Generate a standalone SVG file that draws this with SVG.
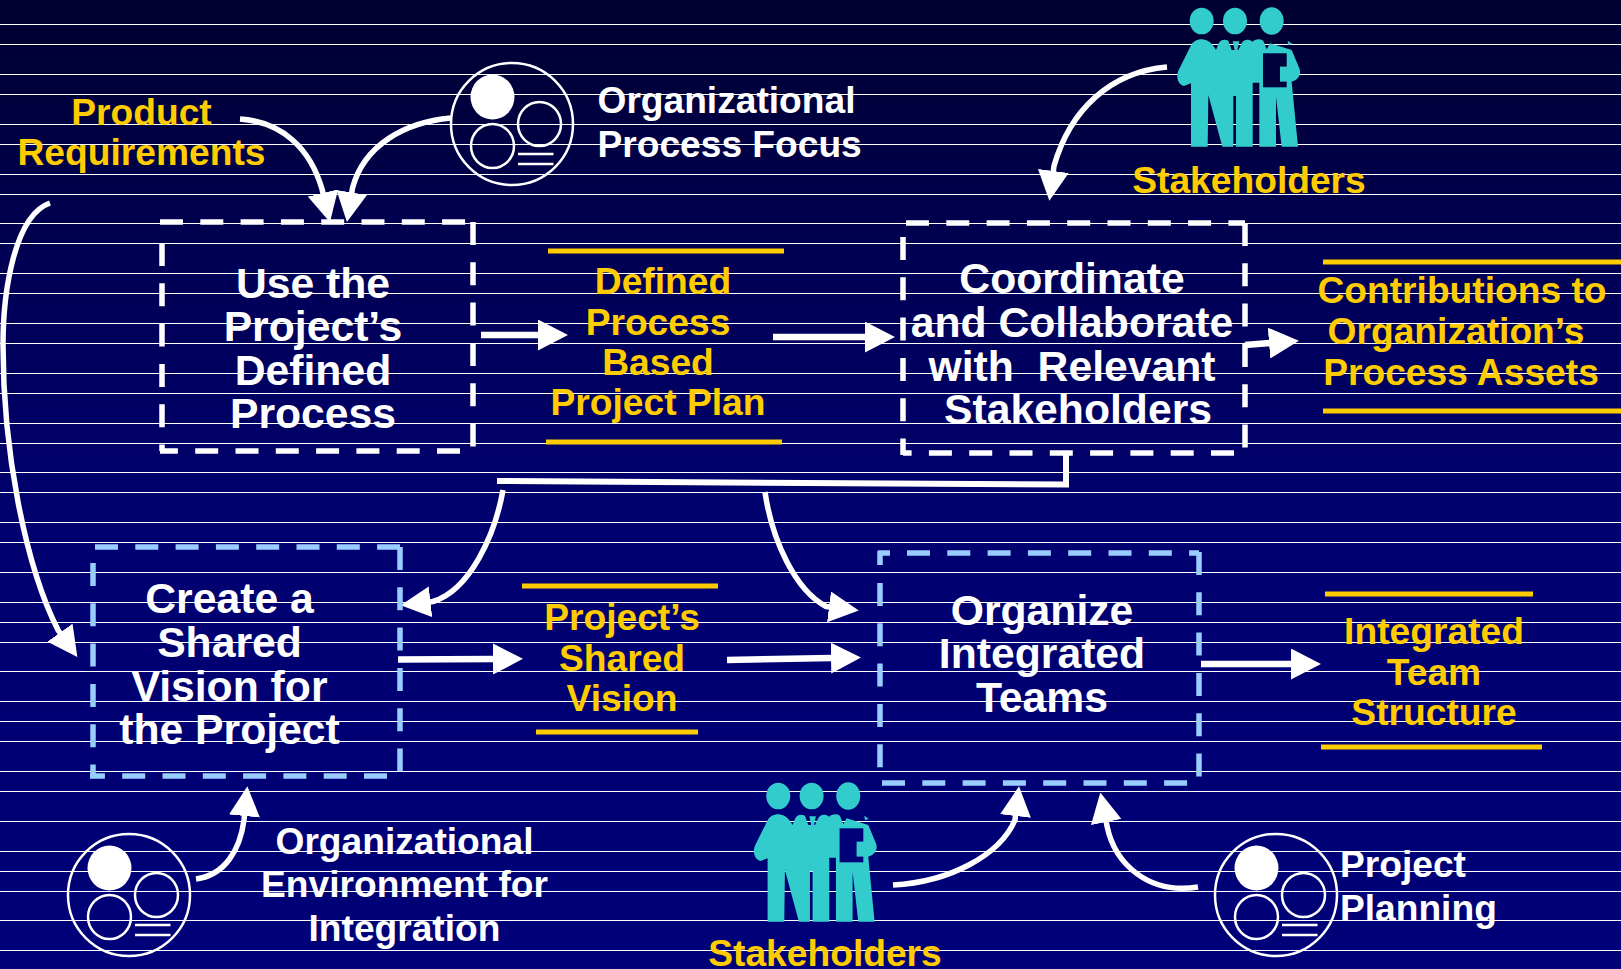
<svg xmlns="http://www.w3.org/2000/svg" xmlns:xlink="http://www.w3.org/1999/xlink" width="1621" height="969" viewBox="0 0 1621 969">
<style>
text{font-family:"Liberation Sans",Arial,sans-serif;font-weight:bold;text-anchor:middle}
.w{fill:#fff;font-size:37.15px}
.b{fill:#fff;font-size:42.7px}
.y{fill:#FFCC00;font-size:37.2px}
.s{text-anchor:start}
.wd{fill:none;stroke:#fff;stroke-width:5.5;stroke-dasharray:23 17.3}
.bd{fill:none;stroke:#99CCFF;stroke-width:5.5;stroke-dasharray:23 17.3}
.rule{stroke:#FFCC00;stroke-width:5;fill:none}
.c{fill:none;stroke:#fff;stroke-width:5.5;marker-end:url(#ah)}
.t{fill:none;stroke:#fff;stroke-width:6.5;marker-end:url(#ah)}
.o{fill:none;stroke:#fff;stroke-width:2.5}
.p{fill:#33CCCC}
</style>
<defs>
<linearGradient id="bg" x1="0" y1="0" x2="0" y2="1">
<stop offset="0" stop-color="#000030"/>
<stop offset="0.3" stop-color="#000058"/>
<stop offset="0.55" stop-color="#000070"/>
<stop offset="1" stop-color="#000078"/>
</linearGradient>
<marker id="ah" viewBox="0 0 30 31" refX="1" refY="15.5" markerWidth="30" markerHeight="31" markerUnits="userSpaceOnUse" orient="auto"><path d="M0 0L30 15.5L0 31Z" fill="#fff"/></marker>
<g id="orgIcon">
<circle class="o" r="61"/>
<ellipse cx="-19.5" cy="-27" rx="22" ry="22.5" fill="#fff"/>
<ellipse class="o" cx="27.5" cy="0" rx="21.5" ry="22"/>
<ellipse class="o" cx="-19.5" cy="22" rx="21.5" ry="22"/>
<path class="o" d="M6 30H41.5M6 40H41.5"/>
</g>
<g id="people">
<ellipse class="p" cx="305" cy="63" rx="36" ry="40"/>
<ellipse class="p" cx="405" cy="63" rx="36" ry="40"/>
<ellipse class="p" cx="515" cy="63" rx="36" ry="41"/>
<path class="p" d="M305 118C290 118 278 125 272 138L235 212C228 228 232 252 252 258L273 250V440H323L325 285L367 440H400V288H408V440H458V248H478V440H528V290L545 440H594L575 245C595 240 605 222 598 205L575 150L510 130L500 148L490 122C478 115 465 118 458 125C445 115 430 118 425 130L415 150H395L385 122C372 116 360 120 355 132L348 150C335 128 322 118 305 118Z"/>
<path class="p" d="M398 124H418L412 150H404Z"/>
<path class="p" d="M563 122L577 132L565 135Z"/>
</g>
</defs>
<rect width="1621" height="969" fill="url(#bg)"/>
<path id="scanlines" fill="none" stroke="#fff" stroke-width="1.1" d="M0 24.5H1621M0 44.5H1621M0 74.5H1621M0 94.5H1621M0 124.5H1621M0 144.5H1621M0 174.5H1621M0 194.5H1621M0 223.5H1621M0 243.5H1621M0 273.5H1621M0 293.5H1621M0 323.5H1621M0 343.5H1621M0 373.5H1621M0 393.5H1621M0 423.5H1621M0 443.5H1621M0 472.5H1621M0 492.5H1621M0 522.5H1621M0 542.5H1621M0 572.5H1621M0 602.5H1621M0 622.5H1621M0 642.5H1621M0 671.5H1621M0 701.5H1621M0 721.5H1621M0 741.5H1621M0 771.5H1621M0 791.5H1621M0 821.5H1621M0 851.5H1621M0 871.5H1621M0 891.5H1621M0 920.5H1621M0 950.5H1621"/>

<g id="connectors">
<path class="c" d="M240 119C282 122 310 148 322 189l1.200 5"/>
<path class="c" d="M451 118C405 122 364 145 352.500 188l-.9 5.500"/>
<path class="c" d="M50 203C15 215 3 290 3 345C3 450 25 565 58 630l2.500 3.500"/>
<path class="c" d="M1167 67C1110 72 1070 110 1054 166l-.8 6"/>
<path class="c" d="M503 490C495 535 470 590 433 601.500l-3.500 .4"/>
<path class="c" d="M765 492C772 540 795 590 826 606.500l4 .5"/>
<path class="c" d="M893 885C950 882 1000 855 1015 820l.6 -5"/>
<path class="c" d="M1198 887C1150 895 1115 865 1107 826l-1 -5"/>
<path class="c" d="M196 879C225 875 240 850 244 820l.5 -5"/>
<path class="t" d="M481 335H539"/>
<path class="t" d="M773 337H866"/>
<path class="t" d="M1245 345L1270 343"/>
<path class="t" d="M398 659.500L494 659"/>
<path class="t" d="M727 660L832 658"/>
<path class="t" d="M1201 664H1292"/>
<path fill="none" stroke="#fff" stroke-width="6" d="M497 481L1066 484.500V453"/>
</g>

<g id="node-use-process">
<path class="wd" d="M160 222H473M473 222V451M460 451H160M162 243V451"/>
<text class="b" x="313" y="298">Use the</text>
<text class="b" x="313" y="341">Project’s</text>
<text class="b" x="313" y="385">Defined</text>
<text class="b" x="313" y="428">Process</text>
</g>
<g id="node-coordinate">
<path class="wd" d="M906 223H1245M1245 223V455M1234 453H903M903 237V455"/>
<text class="b" x="1072" y="293">Coordinate</text>
<text class="b" x="1072" y="337">and Collaborate</text>
<text class="b" x="1072" y="381" xml:space="preserve">with  Relevant</text>
<text class="b" x="1078" y="424">Stakeholders</text>
</g>
<g id="node-vision">
<path class="bd" d="M95 547H400M400 547V776M387 776H90M93 563V776"/>
<text class="b" x="229.500" y="613">Create a</text>
<text class="b" x="229.500" y="657">Shared</text>
<text class="b" x="229.500" y="701">Vision for</text>
<text class="b" x="229.500" y="744">the Project</text>
</g>
<g id="node-organize">
<path class="bd" d="M907 553H1199M878 553H890M1199 552V783M882 783H1199M880 583V783M880 551V565"/>
<text class="b" x="1042" y="625">Organize</text>
<text class="b" x="1042" y="668">Integrated</text>
<text class="b" x="1042" y="712">Teams</text>
</g>

<g id="node-plan">
<path class="rule" d="M548 251H784M546 442H782"/>
<text class="y" x="663" y="294">Defined</text>
<text class="y" x="658" y="335">Process</text>
<text class="y" x="658" y="375">Based</text>
<text class="y" x="658" y="415">Project Plan</text>
</g>
<g id="node-contributions">
<path class="rule" d="M1323 262H1621M1323 411H1621"/>
<text class="y" x="1462" y="303">Contributions to</text>
<text class="y" x="1456" y="344">Organization’s</text>
<text class="y" x="1461" y="385">Process Assets</text>
</g>
<g id="node-shared-vision">
<path class="rule" d="M522 586H718M536 732H698"/>
<text class="y" x="622" y="630">Project’s</text>
<text class="y" x="622" y="671">Shared</text>
<text class="y" x="622" y="711">Vision</text>
</g>
<g id="node-team-structure">
<path class="rule" d="M1325 594H1533M1321 747H1542"/>
<text class="y" x="1434" y="644">Integrated</text>
<text class="y" x="1434" y="684.500">Team</text>
<text class="y" x="1434" y="725">Structure</text>
</g>
<g id="node-product-req">
<text class="y" x="141.500" y="125">Product</text>
<text class="y" x="141.500" y="165">Requirements</text>
</g>
<g id="node-process-focus">
<use xlink:href="#orgIcon" href="#orgIcon" x="512" y="124"/>
<text class="w s" x="597.500" y="113">Organizational</text>
<text class="w s" x="597.500" y="157">Process Focus</text>
</g>
<g id="node-environment">
<use xlink:href="#orgIcon" href="#orgIcon" x="129" y="895"/>
<text class="w" x="404.500" y="854">Organizational</text>
<text class="w" x="404.500" y="897">Environment for</text>
<text class="w" x="404.500" y="941">Integration</text>
</g>
<g id="node-planning">
<use xlink:href="#orgIcon" href="#orgIcon" x="1276" y="895"/>
<text class="w s" x="1340" y="877">Project</text>
<text class="w s" x="1340" y="921">Planning</text>
</g>
<g id="node-stakeholders-top">
<use xlink:href="#people" href="#people" transform="translate(1100 0) scale(.33333)"/>
<rect x="1263" y="53.300" width="23.700" height="34" fill="#00003c"/>
<rect x="1280" y="66.600" width="8.500" height="15" class="p"/>
<text class="y" x="1249" y="192.500">Stakeholders</text>
</g>
<g id="node-stakeholders-bottom">
<use xlink:href="#people" href="#people" transform="translate(676.600 775) scale(.33333)"/>
<rect x="839.600" y="828.300" width="23.700" height="34" fill="#000078"/>
<rect x="856.600" y="841.600" width="8.500" height="15" class="p"/>
<text class="y" x="825" y="966">Stakeholders</text>
</g>
</svg>
